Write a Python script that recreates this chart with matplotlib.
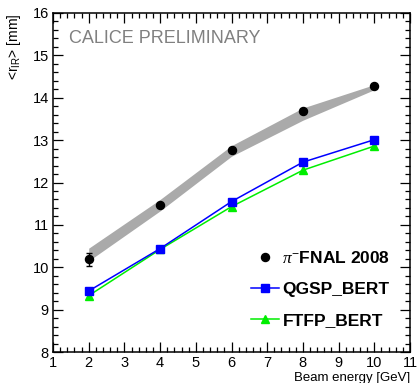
import matplotlib
matplotlib.use("Agg")
import matplotlib.pyplot as plt
from matplotlib.ticker import MultipleLocator
from matplotlib.lines import Line2D

plt.rcParams['font.family'] = ['Liberation Sans', 'DejaVu Sans']
plt.rcParams['mathtext.fontset'] = 'custom'
plt.rcParams['mathtext.rm'] = 'Liberation Sans'
plt.rcParams['mathtext.it'] = 'Liberation Serif:italic'

# Beam energies [GeV]
energy = [2, 4, 6, 8, 10]

# Data: pi- FNAL 2008
data_r = [10.19, 11.47, 12.77, 13.68, 14.27]
data_err = [0.15, 0.04, 0.04, 0.04, 0.04]
syst_lo = [10.15, 11.33, 12.62, 13.47, 14.19]
syst_hi = [10.45, 11.60, 12.87, 13.76, 14.31]

# Simulations
qgsp_r = [9.44, 10.44, 11.55, 12.48, 13.01]
ftfp_r = [9.33, 10.42, 11.43, 12.29, 12.86]

W, H = 418, 383
fig = plt.figure(figsize=(W / 100, H / 100), dpi=100)
ax = fig.add_axes([53 / W, 1 - 352 / H, (410 - 53) / W, (352 - 13) / H])

ax.fill_between(energy, syst_lo, syst_hi, color='#aaaaaa', lw=0, zorder=1)
ax.errorbar(energy, data_r, yerr=data_err, fmt='o', color='black',
            ms=5.8, capsize=2.2, elinewidth=1.0, capthick=1.0, zorder=5)
h_q, = ax.plot(energy, qgsp_r, '-s', color='#0000ff', ms=5.8, lw=1.1,
               zorder=4, label='QGSP_BERT')
h_f, = ax.plot(energy, ftfp_r, '-^', color='#00ee00', ms=6.0, lw=1.1,
               zorder=3, label='FTFP_BERT')
h_data = Line2D([], [], ls='none', marker='o', color='black', ms=5.8,
                label=r'$\pi^{-}$FNAL 2008')

ax.set_xlim(1, 11)
ax.set_ylim(8, 16)
ax.xaxis.set_major_locator(MultipleLocator(1))
ax.xaxis.set_minor_locator(MultipleLocator(0.2))
ax.yaxis.set_major_locator(MultipleLocator(1))
ax.yaxis.set_minor_locator(MultipleLocator(0.2))
ax.tick_params(which='both', direction='in', top=True, right=True,
               labelsize=10.5, pad=3, width=0.9)
ax.tick_params(which='major', length=7.5)
ax.tick_params(which='minor', length=3.8)
for s in ax.spines.values():
    s.set_linewidth(1.1)

ax.set_xlabel('Beam energy [GeV]', loc='right', fontsize=9.5, labelpad=1)
ax.set_ylabel(r'<r$_{\mathrm{IR}}$> [mm]', loc='top', fontsize=10, labelpad=7)

ax.text(0.046, 0.925, 'CALICE PRELIMINARY', transform=ax.transAxes,
        fontsize=13, color='#808080', va='center', ha='left')

ax.legend(handles=[h_data, h_q, h_f], frameon=False,
          loc='upper left', bbox_to_anchor=(0.555, 0.30),
          prop={'weight': 'bold', 'size': 12.5},
          handlelength=1.6, handletextpad=0.2, labelspacing=0.92,
          borderpad=0, borderaxespad=0)

fig.savefig('out.png', dpi=100)
